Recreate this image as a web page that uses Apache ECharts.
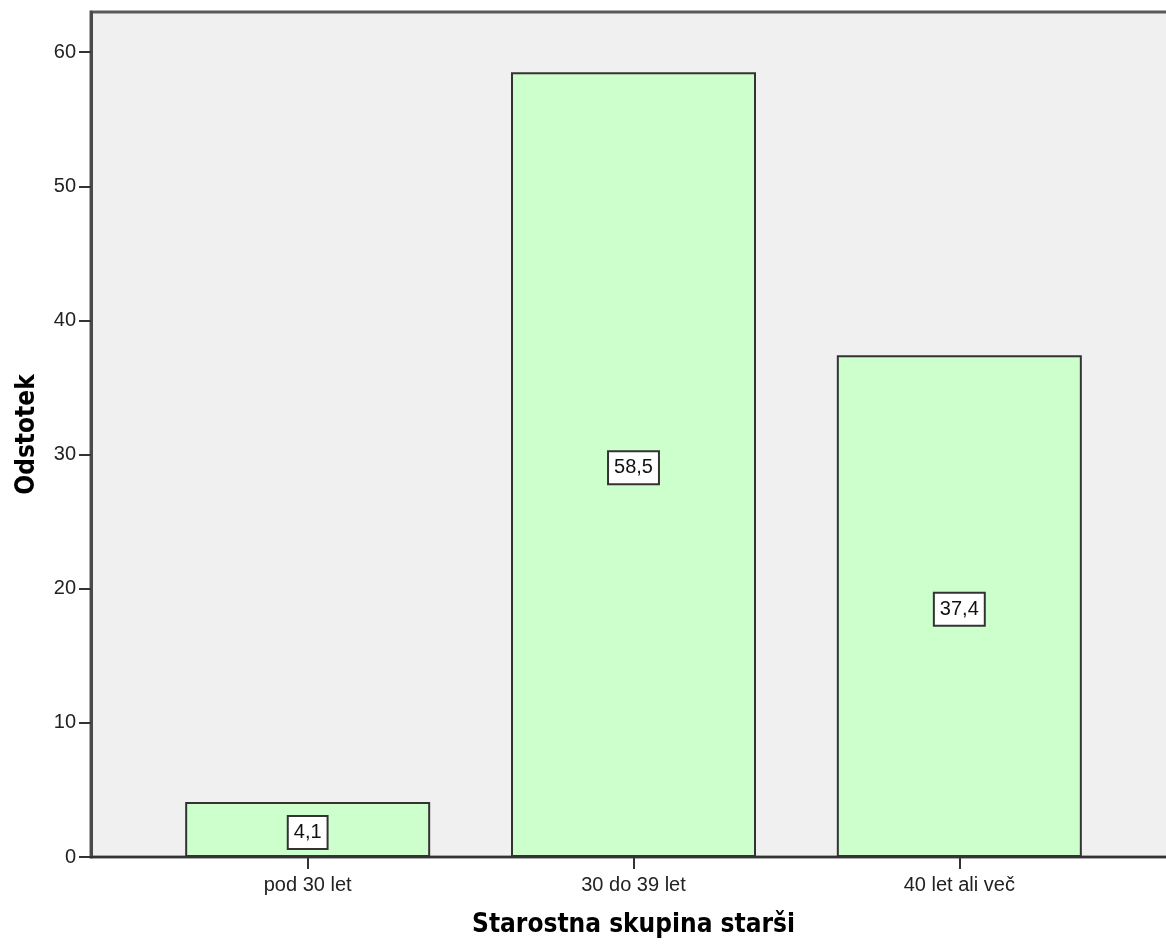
<!DOCTYPE html>
<html>
<head>
<meta charset="utf-8">
<script src="https://cdn.jsdelivr.net/npm/echarts@6/dist/echarts.min.js"></script>
<style>
html,body{margin:0;padding:0;background:#fff;overflow:hidden;width:1166px;height:944px;}
#chart{width:1188px;height:944px;}
</style>
</head>
<body>
<div id="chart"></div>
<script>
const categories = ['pod 30 let', '30 do 39 let', '40 let ali več'];
const percentValues = [4.1, 58.5, 37.4];
const yTicks = [0, 10, 20, 30, 40, 50, 60];
const xAxisTitle = 'Starostna skupina starši';
const yAxisTitle = 'Odstotek';

const positions = categories.map((c, i) => i);
const barData = percentValues.map((v, i) => [positions[i], v]);

const chart = echarts.init(document.getElementById('chart'));
const tickFont = 'Liberation Sans, Arial, sans-serif';
const titleFont = '"DejaVu Sans Condensed", "DejaVu Sans", sans-serif';

chart.setOption({
  animation: false,
  backgroundColor: '#ffffff',
  grid: {
    left: 91, top: 12, bottom: 87, right: 12,
    show: true,
    backgroundColor: '#f0f0f0',
    borderColor: '#5a5a5a',
    borderWidth: 3
  },
  xAxis: {
    type: 'value',
    min: -0.665,
    max: 2.665,
    name: xAxisTitle,
    nameLocation: 'middle',
    nameGap: 55,
    nameTextStyle: { fontFamily: titleFont, fontWeight: 'bold', fontSize: 26, color: '#000' },
    axisLine: { show: true, onZero: false, lineStyle: { color: '#333333', width: 2 } },
    axisTick: { show: true, customValues: positions, length: 12, lineStyle: { color: '#333333', width: 2 } },
    axisLabel: {
      customValues: positions,
      formatter: v => categories[Math.round(v)] || '',
      fontFamily: tickFont, fontSize: 20, color: '#222', margin: 18
    },
    splitLine: { show: false }
  },
  yAxis: {
    type: 'value',
    min: 0,
    max: 63,
    interval: 10,
    name: yAxisTitle,
    nameLocation: 'middle',
    nameGap: 51,
    nameTextStyle: { fontFamily: titleFont, fontWeight: 'bold', fontSize: 26, color: '#000' },
    axisLine: { show: true, onZero: false, lineStyle: { color: '#4a4a4a', width: 3 } },
    axisTick: { show: true, customValues: yTicks, length: 12, lineStyle: { color: '#333333', width: 2 } },
    axisLabel: {
      customValues: yTicks,
      fontFamily: tickFont, fontSize: 20, color: '#222', margin: 15
    },
    splitLine: { show: false }
  },
  series: [{
    type: 'bar',
    data: barData,
    barWidth: 245,
    itemStyle: { color: '#ccffcc', borderColor: '#333333', borderWidth: 2 },
    label: {
      show: true,
      position: 'inside',
      offset: [0, 3],
      formatter: p => String(p.value[1]).replace('.', ','),
      fontFamily: tickFont, fontSize: 20, color: '#111',
      backgroundColor: '#ffffff', borderColor: '#333333', borderWidth: 2,
      padding: [6, 5, 5, 5]
    }
  }]
});
</script>
</body>
</html>
